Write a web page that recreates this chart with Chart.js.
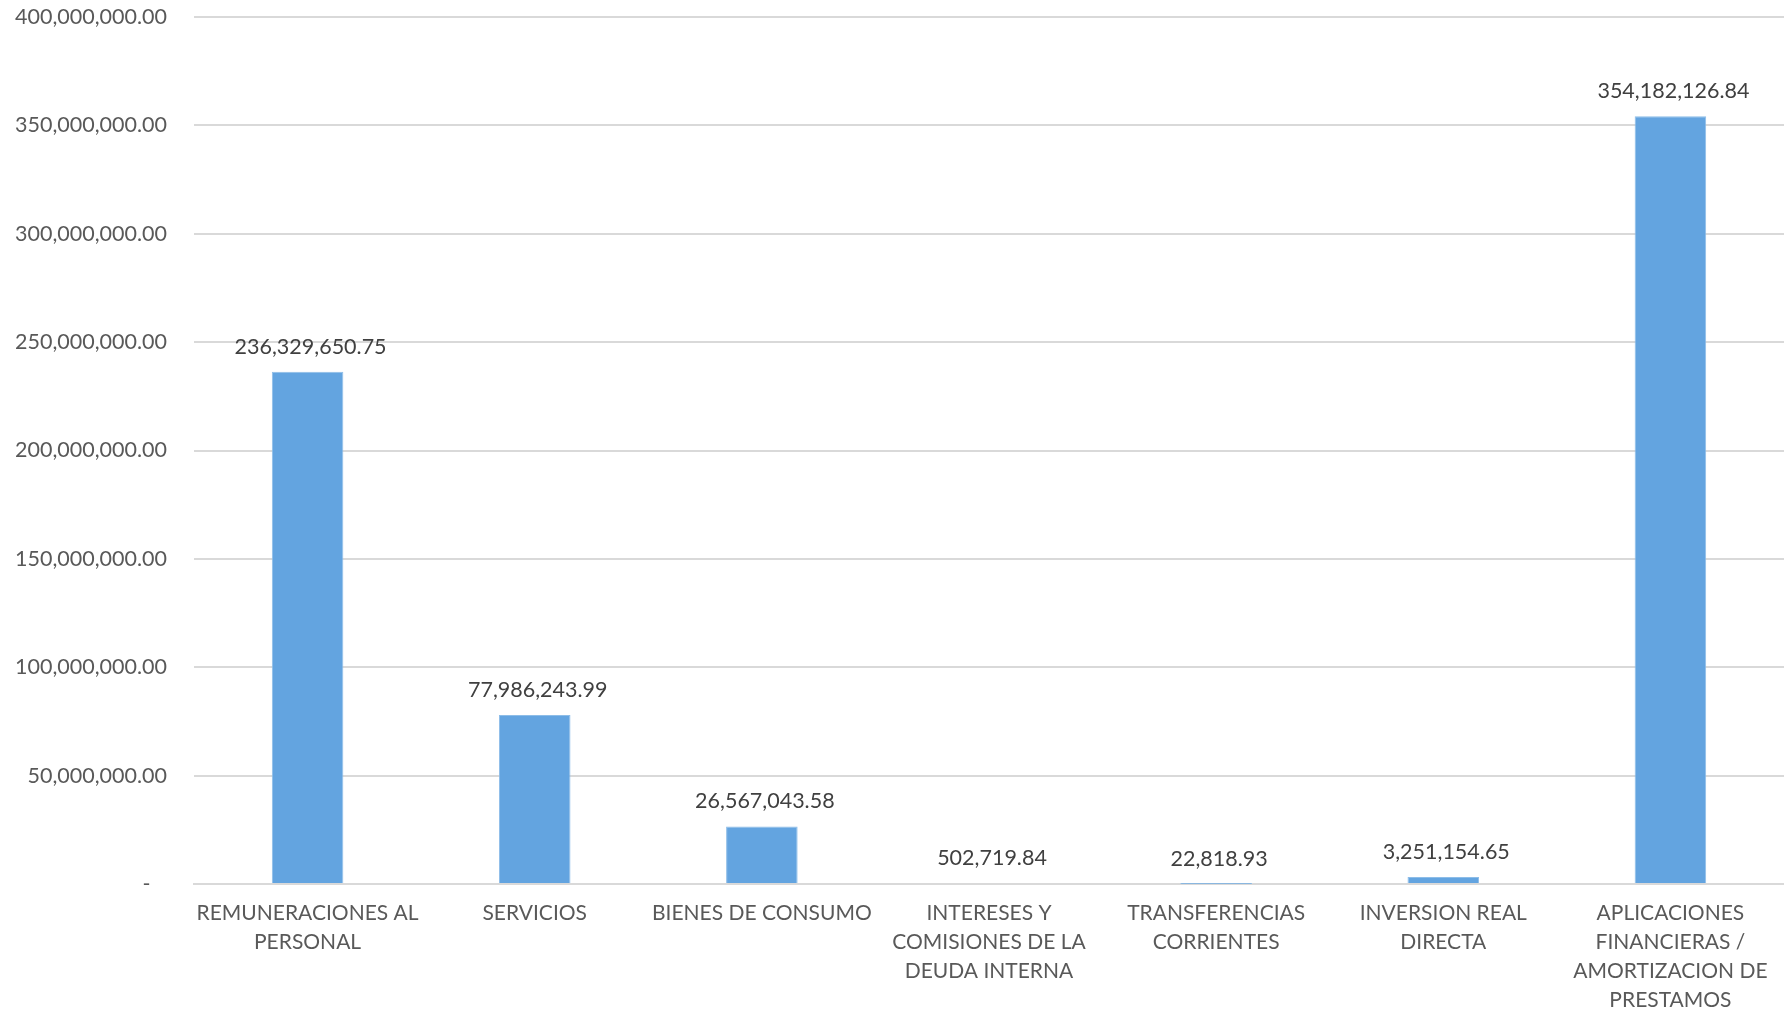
<!DOCTYPE html>
<html>
<head>
<meta charset="utf-8">
<script src="https://cdn.jsdelivr.net/npm/chart.js@4/dist/chart.umd.min.js"></script>
<style>
  html, body { margin: 0; padding: 0; background: #fff; }
  #wrap { width: 1784px; height: 1013px; position: relative; }
</style>
</head>
<body>
<div id="wrap"><canvas id="myChart"></canvas></div>
<script>
// categories (already split into lines like the original)
const categories = [
  ["REMUNERACIONES AL", "PERSONAL"],
  ["SERVICIOS"],
  ["BIENES DE CONSUMO"],
  ["INTERESES Y", "COMISIONES DE LA", "DEUDA INTERNA"],
  ["TRANSFERENCIAS", "CORRIENTES"],
  ["INVERSION REAL", "DIRECTA"],
  ["APLICACIONES", "FINANCIERAS /", "AMORTIZACION DE", "PRESTAMOS"],
];
const amounts = [
  236329650.75, 77986243.99, 26567043.58, 502719.84, 22818.93, 3251154.65, 354182126.84,
];
const yMin = 0;
const yMax = 400000000;
const yStep = 50000000;

const fmt = (v) =>
  v.toLocaleString("en-US", { minimumFractionDigits: 2, maximumFractionDigits: 2 });

// draw the value above each bar
const barValues = {
  id: "barValues",
  afterDatasetsDraw(chart) {
    const ctx = chart.ctx;
    const meta = chart.getDatasetMeta(0);
    ctx.save();
    ctx.font = "21.5px Lato";
    ctx.fillStyle = "#404040";
    ctx.textAlign = "center";
    ctx.textBaseline = "middle";
    meta.data.forEach((bar, i) => {
      ctx.fillText(fmt(amounts[i]), bar.x + 3, bar.y - 25);
    });
    ctx.restore();
  },
};

const ctx = document.getElementById("myChart").getContext("2d");
const myChart = new Chart(ctx, {
  type: "bar",
  data: {
    labels: categories,
    datasets: [
      {
        data: amounts,
        backgroundColor: "#63A4E0",
        borderColor: "#8DBDE8",
        borderWidth: 1,
        categoryPercentage: 0.63,
        barPercentage: 0.5,
      },
    ],
  },
  plugins: [barValues],
  options: {
    responsive: true,
    maintainAspectRatio: false,
    animation: false,
    layout: { padding: { left: -12, right: 0, top: 17, bottom: -17 } },
    plugins: {
      legend: { display: false },
      tooltip: { enabled: false },
    },
    scales: {
      x: {
        grid: { display: false, drawTicks: false },
        border: { color: "#d9d9d9", width: 2 },
        ticks: {
          color: "#595959",
          font: { family: "Lato", size: 21, lineHeight: 1.38 },
          padding: 15,
          autoSkip: false,
          maxRotation: 0,
        },
      },
      y: {
        min: yMin,
        max: yMax,
        grid: { color: "#d9d9d9", lineWidth: 2, drawTicks: false },
        border: { display: false },
        // the wide tick padding would otherwise push the plot down
        afterFit: (scale) => {
          scale.paddingTop = 0;
        },
        ticks: {
          stepSize: yStep,
          color: "#595959",
          font: { family: "Lato", size: 21.5 },
          padding: 27,
          callback: (v) => (v === 0 ? "-   " : fmt(v)),
        },
      },
    },
  },
});
</script>
</body>
</html>
